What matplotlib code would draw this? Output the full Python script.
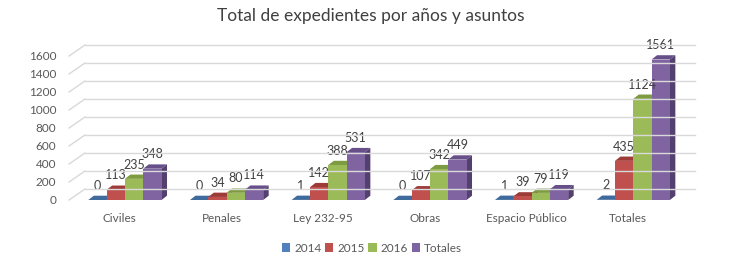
import numpy as np
import matplotlib.pyplot as plt
from matplotlib.patches import Polygon, Patch
from matplotlib.lines import Line2D

plt.rcParams['font.family'] = ['Lato', 'DejaVu Sans']

categories = ["Civiles", "Penales", "Ley 232-95", "Obras", "Espacio Público", "Totales"]
series = ["2014", "2015", "2016", "Totales"]
v2014 = [0, 0, 1, 0, 1, 2]
v2015 = [113, 34, 142, 107, 39, 435]
v2016 = [235, 80, 388, 342, 79, 1124]
vtot = [348, 114, 531, 449, 119, 1561]
values = [v2014, v2015, v2016, vtot]

front = ["#4f81bd", "#c0504d", "#9bbb59", "#8064a2"]
top = ["#3e6a9c", "#9d3b38", "#7d9b41", "#67508a"]
side = ["#375b86", "#873533", "#6d873a", "#54406f"]

W, H = 741, 264
fig = plt.figure(figsize=(W / 100, H / 100), dpi=100)
ax = fig.add_axes([69 / W, 64 / H, 610 / W, 144 / H])
ax.set_xlim(-0.5, len(categories) - 0.5)
ax.set_ylim(0, 1600)
for s in ax.spines.values():
    s.set_visible(False)
ax.set_yticks(np.arange(0, 1601, 200))
ax.set_xticks(np.arange(len(categories)))
ax.set_xticklabels(categories)
ax.tick_params(length=0, labelsize=8.5, colors="#595959")
ax.tick_params(axis="y", pad=9)
ax.tick_params(axis="x", pad=9)

# wall depth (pixels) and bar depth (pixels)
wdx, wdy = 16, 11
bdx_px, bdy_px = 5.5, 4.3
bdx = bdx_px / (610 / len(categories))
bdy = bdy_px / (144 / 1600)

# back wall gridlines + floor diagonals
for v in np.arange(0, 1601, 200):
    x0, y0 = ax.transData.transform((-0.5, v))
    x1, _ = ax.transData.transform((len(categories) - 0.5, v))
    fig.lines.append(Line2D([x0 + wdx, x1 + wdx], [y0 + wdy, y0 + wdy], color="#d9d9d9",
                            lw=1, transform=None, zorder=0))
    fig.lines.append(Line2D([x0, x0 + wdx], [y0, y0 + wdy], color="#d9d9d9",
                            lw=1, transform=None, zorder=0))

bw = 0.18
shift = 0.05
x = np.arange(len(categories))
for j, vals in enumerate(values):
    xl = x + shift + (j - 2) * bw
    for xi, h in zip(xl, vals):
        ax.add_patch(Polygon([(xi, h), (xi + bw, h), (xi + bw + bdx, h + bdy), (xi + bdx, h + bdy)],
                             closed=True, fc=top[j], ec="none", zorder=2, clip_on=False))
        ax.add_patch(Polygon([(xi + bw, 0), (xi + bw + bdx, bdy), (xi + bw + bdx, h + bdy), (xi + bw, h)],
                             closed=True, fc=side[j], ec="none", zorder=3, clip_on=False))
        ax.add_patch(Polygon([(xi, 0), (xi + bw, 0), (xi + bw, h), (xi, h)],
                             closed=True, fc=front[j], ec="none", zorder=4, clip_on=False))
        ax.annotate(str(h), (xi + bw / 2, h), xytext=(0, 6), textcoords="offset points",
                    ha="center", va="bottom", fontsize=9, color="#404040", zorder=5)

fig.text(0.5, 1 - 16 / H, "Total de expedientes por años y asuntos", ha="center", va="center",
         fontsize=12.5, color="#404040")

handles = [Patch(fc=c, ec="none") for c in front]
fig.legend(handles, series, loc="center", bbox_to_anchor=(372 / W, 1 - 248 / H), ncol=4,
           frameon=False, fontsize=8.5, handlelength=0.7, handleheight=0.7, handletextpad=0.35,
           columnspacing=0.3, labelcolor="#595959")

fig.savefig("out.png", dpi=100)
